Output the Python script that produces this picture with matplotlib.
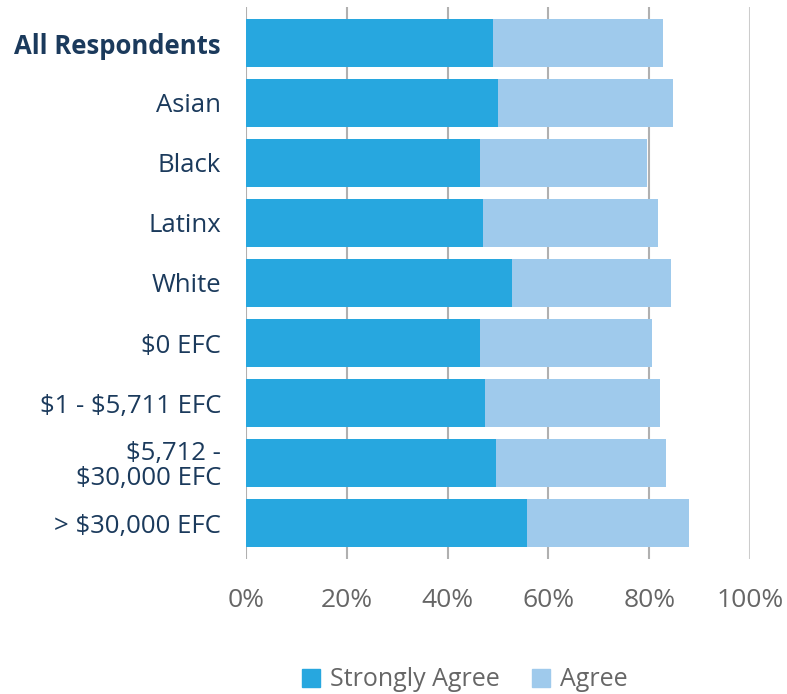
import matplotlib
matplotlib.use("Agg")
import matplotlib.pyplot as plt
from matplotlib.patches import Patch

categories = ["All Respondents", "Asian", "Black", "Latinx", "White", r"\$0 EFC",
              r"\$1 - \$5,711 EFC", "\\$5,712 -\n\\$30,000 EFC", r"> \$30,000 EFC"]
strongly_agree = [49.0, 50.0, 46.4, 47.0, 52.8, 46.4, 47.4, 49.6, 55.8]
agree = [33.7, 34.7, 33.2, 34.7, 31.5, 34.2, 34.7, 33.7, 32.1]
xticks = [0, 20, 40, 60, 80, 100]
xticklabels = ["0%", "20%", "40%", "60%", "80%", "100%"]

c_sa = "#27A7DF"
c_a = "#9FCAEC"
navy = "#1B3A5C"
gray = "#666666"

plt.rcParams['font.family'] = ['Open Sans', 'DejaVu Sans']

fig = plt.figure(figsize=(7.87, 6.94), dpi=100)
ax = fig.add_axes([246/787, 1-559/694, (750-246)/787, (559-7)/694])

y = list(range(len(categories)))
ax.barh(y, strongly_agree, height=0.8, color=c_sa, zorder=2)
ax.barh(y, agree, left=strongly_agree, height=0.8, color=c_a, zorder=2)

ax.set_xlim(0, 100)
ax.set_ylim(len(categories) - 0.4, -0.6)
ax.set_xticks(xticks)
ax.set_xticklabels(xticklabels, fontsize=19, color=gray)
ax.set_yticks(y)
ax.set_yticklabels(categories, fontsize=18.5, color=navy, linespacing=1.0)
ax.get_yticklabels()[0].set_fontweight("bold")
ax.tick_params(axis="x", length=0, pad=21)
ax.tick_params(axis="y", length=0, pad=18)

for x in xticks:
    ax.axvline(x, color="#b0b0b0" if x < 100 else "#cccccc",
               lw=1.5 if x < 100 else 2.2, zorder=1)
for s in ax.spines.values():
    s.set_visible(False)

handles = [Patch(color=c_sa, label="Strongly Agree"), Patch(color=c_a, label="Agree")]
fig.legend(handles=handles, loc="center", bbox_to_anchor=(465/787, 1-680/694),
           ncol=2, frameon=False, fontsize=18, handlelength=0.72, handleheight=0.72,
           handletextpad=0.4, columnspacing=1.3, labelcolor=gray)

fig.savefig("out.png", dpi=100)
